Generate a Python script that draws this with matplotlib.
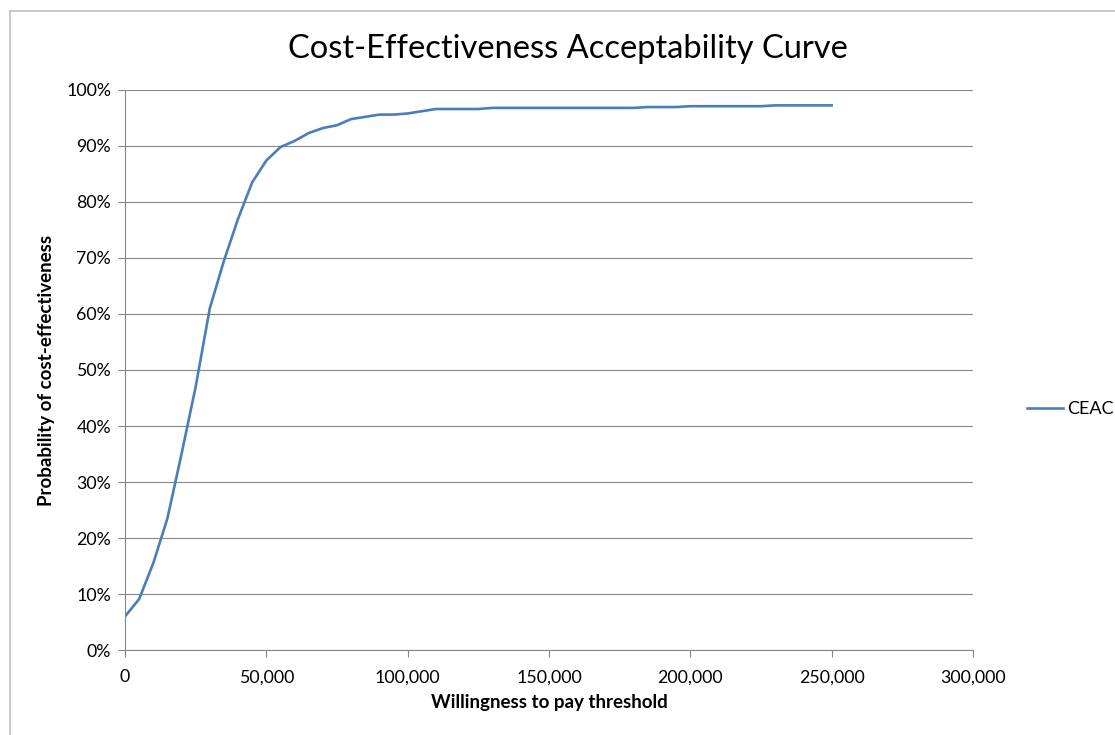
import matplotlib
matplotlib.use('agg')
import matplotlib.pyplot as plt
from matplotlib.lines import Line2D
from matplotlib.ticker import FuncFormatter, MultipleLocator

plt.rcParams['font.family'] = ['Lato', 'DejaVu Sans']

# willingness-to-pay thresholds and probability of cost-effectiveness (%)
wtp = [0, 5000, 10000, 15000, 20000, 25000, 30000, 35000, 40000, 45000,
       50000, 55000, 60000, 65000, 70000, 75000, 80000, 85000, 90000, 95000,
       100000, 105000, 110000, 115000, 120000, 125000, 130000, 135000, 140000, 145000,
       150000, 155000, 160000, 165000, 170000, 175000, 180000, 185000, 190000, 195000,
       200000, 205000, 210000, 215000, 220000, 225000, 230000, 235000, 240000, 245000,
       250000]
ceac = [6.0, 9.1, 15.5, 23.5, 35.0, 47.0, 61.0, 69.5, 77.0, 83.5,
        87.4, 89.8, 90.9, 92.3, 93.2, 93.7, 94.8, 95.2, 95.6, 95.6,
        95.8, 96.2, 96.6, 96.6, 96.6, 96.6, 96.8, 96.8, 96.8, 96.8,
        96.8, 96.8, 96.8, 96.8, 96.8, 96.8, 96.8, 96.95, 96.95, 96.95,
        97.1, 97.1, 97.1, 97.1, 97.1, 97.1, 97.25, 97.25, 97.25, 97.25,
        97.25]

grey = '#868686'

fig = plt.figure(figsize=(11.15, 7.35), dpi=100)
ax = fig.add_axes([0.1121, 0.1156, 0.7605, 0.762])

ax.plot(wtp, ceac, color='#4A7EBB', linewidth=1.9, label='CEAC')

ax.set_xlim(0, 300000)
ax.set_ylim(0, 100)
ax.xaxis.set_major_locator(MultipleLocator(50000))
ax.yaxis.set_major_locator(MultipleLocator(10))
ax.xaxis.set_major_formatter(FuncFormatter(lambda v, p: f'{v:,.0f}'))
ax.yaxis.set_major_formatter(FuncFormatter(lambda v, p: f'{v:.0f}%'))

ax.grid(axis='y', color=grey, linewidth=0.8)
ax.set_axisbelow(True)
for side in ['top', 'right']:
    ax.spines[side].set_visible(False)
for side in ['left', 'bottom']:
    ax.spines[side].set_color(grey)
    ax.spines[side].set_linewidth(0.8)
ax.tick_params(axis='both', direction='out', length=5, width=0.8, color=grey,
               labelsize=12.8, labelcolor='black')
ax.tick_params(axis='y', pad=5)
ax.tick_params(axis='x', pad=9)

ax.set_xlabel('Willingness to pay threshold', fontsize=13.5, fontweight='bold', labelpad=6)
ax.set_ylabel('Probability of cost-effectiveness', fontsize=13.5, fontweight='bold', labelpad=8)
fig.text(0.509, 0.934, 'Cost-Effectiveness Acceptability Curve', fontsize=23.5,
         ha='center', va='center')

ax.legend(loc='center left', bbox_to_anchor=(1.045, 0.43), frameon=False,
          fontsize=13, handlelength=2.0, handletextpad=0.2)

# outer chart frame
fig.add_artist(Line2D([10 / 1115, 10 / 1115], [0, 1 - 11 / 735],
                      transform=fig.transFigure, color='#BFBFBF', linewidth=1.2))
fig.add_artist(Line2D([10 / 1115, 1], [1 - 11 / 735, 1 - 11 / 735],
                      transform=fig.transFigure, color='#BFBFBF', linewidth=1.2))

fig.savefig('out.png', dpi=100)
